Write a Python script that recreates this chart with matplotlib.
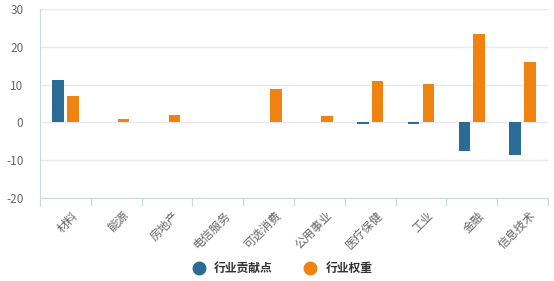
import numpy as np
import matplotlib
matplotlib.use('Agg')
import matplotlib.pyplot as plt
import matplotlib.transforms as mtransforms
from matplotlib.lines import Line2D

plt.rcParams['font.family'] = ['Noto Sans CJK SC', 'DejaVu Sans']
plt.rcParams['axes.unicode_minus'] = False

categories = ['材料', '能源', '房地产', '电信服务', '可选消费', '公用事业', '医疗保健', '工业', '金融', '信息技术']
contribution = [11.1, 0.0, 0.0, 0.0, 0.0, 0.0, -0.3, -0.5, -7.6, -8.5]
weight = [7.1, 1.0, 1.9, 0.0, 8.9, 1.6, 10.9, 10.1, 23.4, 16.1]

blue = '#2b6c97'
orange = '#f0820f'
grid_c = '#e6e9ef'
axis_c = '#cdd6e4'
text_c = '#666666'

fig = plt.figure(figsize=(5.54, 2.81), dpi=100)
ax = fig.add_axes([0.0722, 0.2954, 0.917, 0.6726])

x = np.arange(len(categories))
w = 0.23
ax.bar(x - 0.145, contribution, w, color=blue, zorder=3)
ax.bar(x + 0.145, weight, w, color=orange, zorder=3)

ax.set_xlim(-0.5, len(categories) - 0.5)
ax.set_ylim(-20, 30)
ax.set_yticks([-20, -10, 0, 10, 20, 30])
ax.yaxis.grid(True, color=grid_c, linewidth=1, zorder=0)

for s in ['top', 'right']:
    ax.spines[s].set_visible(False)
ax.spines['left'].set_color(axis_c)
ax.spines['bottom'].set_color(axis_c)

# ticks at category boundaries, labels at centres
ax.set_xticks(np.arange(-0.5, len(categories) + 0.5, 1))
ax.set_xticklabels([])
ax.set_xticks(x, minor=True)
ax.set_xticklabels(categories, minor=True, rotation=45, ha='right',
                   rotation_mode='anchor', fontsize=8.5, color=text_c)
ax.tick_params(axis='x', which='major', length=6, color=axis_c)
ax.tick_params(axis='x', which='minor', length=0, pad=8)
ax.tick_params(axis='y', length=0, labelsize=8.5, labelcolor=text_c, pad=12)

shift = mtransforms.ScaledTranslation(6 / 100, 0, fig.dpi_scale_trans)
for lbl in ax.get_xticklabels(minor=True):
    lbl.set_transform(lbl.get_transform() + shift)

handles = [Line2D([], [], marker='o', linestyle='', markersize=9, color=blue),
           Line2D([], [], marker='o', linestyle='', markersize=9, color=orange)]
fig.legend(handles, ['行业贡献点', '行业权重'], loc='center', bbox_to_anchor=(0.505, 0.045),
           ncol=2, frameon=False, prop={'size': 8.5, 'weight': 'bold'},
           handletextpad=0.3, columnspacing=2.2, labelcolor='#333333')

fig.savefig('out.png', dpi=100)
